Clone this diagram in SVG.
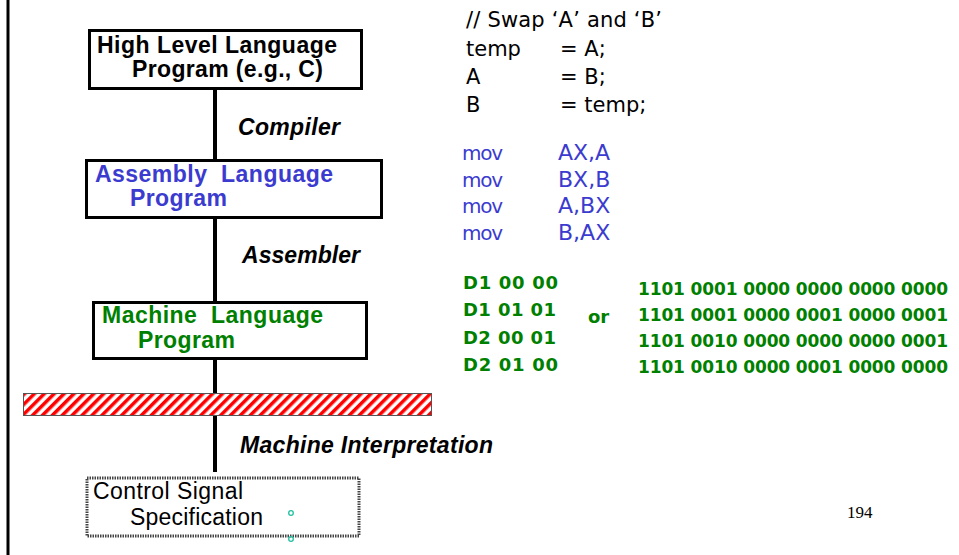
<svg xmlns="http://www.w3.org/2000/svg" width="959" height="555" viewBox="0 0 959 555">
<style>
.box{fill:#fff;stroke:#000;stroke-width:3}
.lbl{font-family:"Liberation Sans",Arial,sans-serif;font-weight:bold;font-size:23px}
.it{font-family:"Liberation Sans",Arial,sans-serif;font-weight:bold;font-style:italic;font-size:23px;fill:#000}
.code{font-family:"DejaVu Sans","Open Sans",sans-serif;font-size:21px;fill:#000}
.asmc{font-family:"DejaVu Sans","Open Sans",sans-serif;font-size:20px;fill:#3b3bcf}
.asmo{font-family:"DejaVu Sans","Open Sans",sans-serif;font-size:22px;fill:#3b3bcf}
.blue{fill:#3b3bcf}
.grn{font-family:"DejaVu Sans","Open Sans",sans-serif;font-weight:bold;font-size:18px;fill:#008000}
.bin{font-family:"DejaVu Sans","Open Sans",sans-serif;font-weight:bold;font-size:17px;fill:#008000}
.conn{stroke:#000;stroke-width:4}
.dot{fill:none;stroke:#20c0a0;stroke-width:1.3}
.reg{font-family:"Liberation Sans",Arial,sans-serif;font-size:23px;fill:#000}
</style>
<defs>
<pattern id="hatch" patternUnits="userSpaceOnUse" width="7" height="10" patternTransform="rotate(45)">
<rect width="7" height="10" fill="#fff"/>
<rect width="3.5" height="10" fill="#ff0000"/>
</pattern>
</defs>
<rect width="959" height="555" fill="#fff"/>
<line x1="8" y1="0" x2="8" y2="555" stroke="#000" stroke-width="3"/>

<g id="connectors">
<line class="conn" x1="215" y1="89" x2="215" y2="160"/>
<line class="conn" x1="215" y1="218" x2="215" y2="302"/>
<line class="conn" x1="215" y1="359" x2="215" y2="393"/>
<line class="conn" x1="215" y1="416" x2="215" y2="472"/>
<text class="it" x="238" y="135" textLength="102">Compiler</text>
<text class="it" x="242" y="263" textLength="118">Assembler</text>
<text class="it" x="240" y="453" textLength="253">Machine Interpretation</text>
</g>

<g id="hll">
<rect class="box" x="89.5" y="30.5" width="272" height="58"/>
<text class="lbl" x="97" y="53" textLength="240">High Level Language</text>
<text class="lbl" x="132" y="77" textLength="191">Program (e.g., C)</text>
</g>

<g id="asm">
<rect class="box" x="86.5" y="160.5" width="295" height="57"/>
<text class="lbl blue" x="95" y="182" textLength="238" xml:space="preserve">Assembly  Language</text>
<text class="lbl blue" x="130" y="206" textLength="97">Program</text>
</g>

<g id="mach">
<rect class="box" x="93.5" y="302.5" width="273" height="56"/>
<text class="lbl" fill="#008000" x="102" y="323" textLength="221" xml:space="preserve">Machine  Language</text>
<text class="lbl" fill="#008000" x="138" y="348" textLength="97">Program</text>
</g>

<g id="barrier">
<rect x="23.5" y="393.5" width="408" height="22" fill="url(#hatch)" stroke="#555" stroke-width="1"/>
</g>

<g id="ctrl">
<rect x="87" y="478" width="272" height="58" fill="#fff" stroke="#444" stroke-width="3" stroke-dasharray="1.5 1"/>
<text class="reg" x="93" y="499" textLength="150">Control Signal</text>
<text class="reg" x="130" y="525" textLength="133">Specification</text>
<circle class="dot" cx="291" cy="513" r="2.3"/>
<circle class="dot" cx="291" cy="539" r="2.3"/>
</g>

<g id="hlcode">
<text class="code" x="466" y="27" textLength="196">// Swap ‘A’ and ‘B’</text>
<text class="code" x="466" y="56">temp</text>
<text class="code" x="560" y="56">= A;</text>
<text class="code" x="466" y="84">A</text>
<text class="code" x="560" y="84">= B;</text>
<text class="code" x="466" y="112">B</text>
<text class="code" x="560" y="112">= temp;</text>
</g>

<g id="asmcode">
<text class="asmc" x="462" y="160" textLength="41">mov</text>
<text class="asmo" x="558" y="160">AX,A</text>
<text class="asmc" x="462" y="187" textLength="41">mov</text>
<text class="asmo" x="558" y="187">BX,B</text>
<text class="asmc" x="462" y="213" textLength="41">mov</text>
<text class="asmo" x="558" y="213">A,BX</text>
<text class="asmc" x="462" y="240" textLength="41">mov</text>
<text class="asmo" x="558" y="240">B,AX</text>
</g>

<g id="machcode">
<text class="grn" x="463" y="289" textLength="95">D1 00 00</text>
<text class="grn" x="463" y="316" textLength="93">D1 01 01</text>
<text class="grn" x="463" y="344" textLength="93">D2 00 01</text>
<text class="grn" x="463" y="371" textLength="95">D2 01 00</text>
<text class="grn" x="588" y="323" font-size="22">or</text>
<text class="bin" x="638" y="295" textLength="310">1101 0001 0000 0000 0000 0000</text>
<text class="bin" x="638" y="321" textLength="310">1101 0001 0000 0001 0000 0001</text>
<text class="bin" x="638" y="347" textLength="310">1101 0010 0000 0000 0000 0001</text>
<text class="bin" x="638" y="373" textLength="310">1101 0010 0000 0001 0000 0000</text>
</g>

<text x="847" y="518" font-family="Liberation Serif,Times New Roman,serif" font-size="17">194</text>
</svg>
